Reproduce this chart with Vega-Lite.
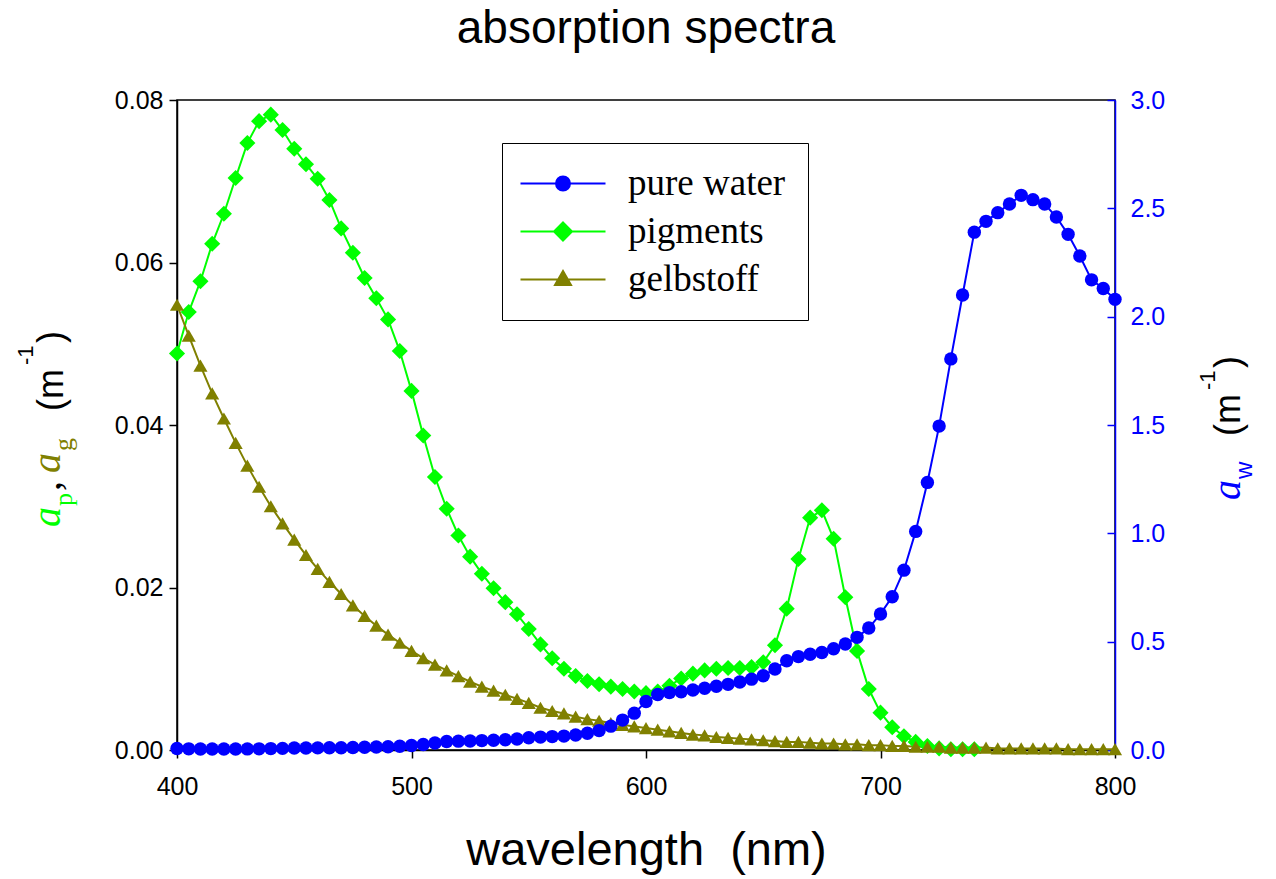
{
  "$schema": "https://vega.github.io/schema/vega-lite/v6.json",
  "width": 938,
  "height": 650,
  "autosize": {"type": "none"},
  "padding": {"left": 177, "top": 100, "right": 161, "bottom": 129},
  "background": "white",
  "title": {
    "text": "absorption spectra",
    "font": "Liberation Sans",
    "fontSize": 46,
    "fontWeight": "normal",
    "color": "black",
    "anchor": "middle",
    "offset": 35
  },
  "config": {
    "view": {"stroke": "black", "strokeWidth": 1.5},
    "axis": {
      "labelFont": "Liberation Sans",
      "labelFontSize": 25,
      "labelColor": "black",
      "labelFlush": false,
      "labelOverlap": false,
      "tickColor": "black",
      "domainColor": "black",
      "domainWidth": 1.5,
      "tickWidth": 1.5,
      "grid": false,
      "titleFont": "Liberation Sans",
      "titleFontWeight": "normal",
      "titleColor": "black"
    }
  },
  "datasets": {
    "spectra": [
      {"nm": 400, "series": "pure water", "a": 0.0066},
      {"nm": 405, "series": "pure water", "a": 0.0053},
      {"nm": 410, "series": "pure water", "a": 0.0047},
      {"nm": 415, "series": "pure water", "a": 0.0044},
      {"nm": 420, "series": "pure water", "a": 0.0045},
      {"nm": 425, "series": "pure water", "a": 0.0048},
      {"nm": 430, "series": "pure water", "a": 0.0050},
      {"nm": 435, "series": "pure water", "a": 0.0053},
      {"nm": 440, "series": "pure water", "a": 0.0064},
      {"nm": 445, "series": "pure water", "a": 0.0075},
      {"nm": 450, "series": "pure water", "a": 0.0092},
      {"nm": 455, "series": "pure water", "a": 0.0096},
      {"nm": 460, "series": "pure water", "a": 0.0098},
      {"nm": 465, "series": "pure water", "a": 0.0101},
      {"nm": 470, "series": "pure water", "a": 0.0106},
      {"nm": 475, "series": "pure water", "a": 0.0114},
      {"nm": 480, "series": "pure water", "a": 0.0127},
      {"nm": 485, "series": "pure water", "a": 0.0136},
      {"nm": 490, "series": "pure water", "a": 0.0150},
      {"nm": 495, "series": "pure water", "a": 0.0173},
      {"nm": 500, "series": "pure water", "a": 0.0204},
      {"nm": 505, "series": "pure water", "a": 0.0256},
      {"nm": 510, "series": "pure water", "a": 0.0325},
      {"nm": 515, "series": "pure water", "a": 0.0396},
      {"nm": 520, "series": "pure water", "a": 0.0409},
      {"nm": 525, "series": "pure water", "a": 0.0417},
      {"nm": 530, "series": "pure water", "a": 0.0434},
      {"nm": 535, "series": "pure water", "a": 0.0452},
      {"nm": 540, "series": "pure water", "a": 0.0474},
      {"nm": 545, "series": "pure water", "a": 0.0511},
      {"nm": 550, "series": "pure water", "a": 0.0565},
      {"nm": 555, "series": "pure water", "a": 0.0596},
      {"nm": 560, "series": "pure water", "a": 0.0619},
      {"nm": 565, "series": "pure water", "a": 0.0642},
      {"nm": 570, "series": "pure water", "a": 0.0695},
      {"nm": 575, "series": "pure water", "a": 0.0772},
      {"nm": 580, "series": "pure water", "a": 0.0896},
      {"nm": 585, "series": "pure water", "a": 0.110},
      {"nm": 590, "series": "pure water", "a": 0.138},
      {"nm": 595, "series": "pure water", "a": 0.170},
      {"nm": 600, "series": "pure water", "a": 0.224},
      {"nm": 605, "series": "pure water", "a": 0.256},
      {"nm": 610, "series": "pure water", "a": 0.265},
      {"nm": 615, "series": "pure water", "a": 0.269},
      {"nm": 620, "series": "pure water", "a": 0.277},
      {"nm": 625, "series": "pure water", "a": 0.285},
      {"nm": 630, "series": "pure water", "a": 0.294},
      {"nm": 635, "series": "pure water", "a": 0.303},
      {"nm": 640, "series": "pure water", "a": 0.314},
      {"nm": 645, "series": "pure water", "a": 0.327},
      {"nm": 650, "series": "pure water", "a": 0.343},
      {"nm": 655, "series": "pure water", "a": 0.374},
      {"nm": 660, "series": "pure water", "a": 0.412},
      {"nm": 665, "series": "pure water", "a": 0.431},
      {"nm": 670, "series": "pure water", "a": 0.442},
      {"nm": 675, "series": "pure water", "a": 0.450},
      {"nm": 680, "series": "pure water", "a": 0.467},
      {"nm": 685, "series": "pure water", "a": 0.489},
      {"nm": 690, "series": "pure water", "a": 0.520},
      {"nm": 695, "series": "pure water", "a": 0.563},
      {"nm": 700, "series": "pure water", "a": 0.628},
      {"nm": 705, "series": "pure water", "a": 0.707},
      {"nm": 710, "series": "pure water", "a": 0.830},
      {"nm": 715, "series": "pure water", "a": 1.009},
      {"nm": 720, "series": "pure water", "a": 1.235},
      {"nm": 725, "series": "pure water", "a": 1.495},
      {"nm": 730, "series": "pure water", "a": 1.805},
      {"nm": 735, "series": "pure water", "a": 2.10},
      {"nm": 740, "series": "pure water", "a": 2.39},
      {"nm": 745, "series": "pure water", "a": 2.44},
      {"nm": 750, "series": "pure water", "a": 2.48},
      {"nm": 755, "series": "pure water", "a": 2.52},
      {"nm": 760, "series": "pure water", "a": 2.56},
      {"nm": 765, "series": "pure water", "a": 2.54},
      {"nm": 770, "series": "pure water", "a": 2.52},
      {"nm": 775, "series": "pure water", "a": 2.46},
      {"nm": 780, "series": "pure water", "a": 2.38},
      {"nm": 785, "series": "pure water", "a": 2.28},
      {"nm": 790, "series": "pure water", "a": 2.17},
      {"nm": 795, "series": "pure water", "a": 2.13},
      {"nm": 800, "series": "pure water", "a": 2.08},

      {"nm": 400, "series": "pigments", "a": 0.0488},
      {"nm": 405, "series": "pigments", "a": 0.0539},
      {"nm": 410, "series": "pigments", "a": 0.0577},
      {"nm": 415, "series": "pigments", "a": 0.0623},
      {"nm": 420, "series": "pigments", "a": 0.0660},
      {"nm": 425, "series": "pigments", "a": 0.0704},
      {"nm": 430, "series": "pigments", "a": 0.0747},
      {"nm": 435, "series": "pigments", "a": 0.0774},
      {"nm": 440, "series": "pigments", "a": 0.0782},
      {"nm": 445, "series": "pigments", "a": 0.0763},
      {"nm": 450, "series": "pigments", "a": 0.0740},
      {"nm": 455, "series": "pigments", "a": 0.0721},
      {"nm": 460, "series": "pigments", "a": 0.0703},
      {"nm": 465, "series": "pigments", "a": 0.0677},
      {"nm": 470, "series": "pigments", "a": 0.0642},
      {"nm": 475, "series": "pigments", "a": 0.0612},
      {"nm": 480, "series": "pigments", "a": 0.0581},
      {"nm": 485, "series": "pigments", "a": 0.0556},
      {"nm": 490, "series": "pigments", "a": 0.0530},
      {"nm": 495, "series": "pigments", "a": 0.0491},
      {"nm": 500, "series": "pigments", "a": 0.0442},
      {"nm": 505, "series": "pigments", "a": 0.0387},
      {"nm": 510, "series": "pigments", "a": 0.0336},
      {"nm": 515, "series": "pigments", "a": 0.0297},
      {"nm": 520, "series": "pigments", "a": 0.0264},
      {"nm": 525, "series": "pigments", "a": 0.0238},
      {"nm": 530, "series": "pigments", "a": 0.0217},
      {"nm": 535, "series": "pigments", "a": 0.0199},
      {"nm": 540, "series": "pigments", "a": 0.0182},
      {"nm": 545, "series": "pigments", "a": 0.0167},
      {"nm": 550, "series": "pigments", "a": 0.0149},
      {"nm": 555, "series": "pigments", "a": 0.0130},
      {"nm": 560, "series": "pigments", "a": 0.0113},
      {"nm": 565, "series": "pigments", "a": 0.0100},
      {"nm": 570, "series": "pigments", "a": 0.0091},
      {"nm": 575, "series": "pigments", "a": 0.0085},
      {"nm": 580, "series": "pigments", "a": 0.0081},
      {"nm": 585, "series": "pigments", "a": 0.0078},
      {"nm": 590, "series": "pigments", "a": 0.0075},
      {"nm": 595, "series": "pigments", "a": 0.0072},
      {"nm": 600, "series": "pigments", "a": 0.0070},
      {"nm": 605, "series": "pigments", "a": 0.0072},
      {"nm": 610, "series": "pigments", "a": 0.0079},
      {"nm": 615, "series": "pigments", "a": 0.0088},
      {"nm": 620, "series": "pigments", "a": 0.0094},
      {"nm": 625, "series": "pigments", "a": 0.0098},
      {"nm": 630, "series": "pigments", "a": 0.0100},
      {"nm": 635, "series": "pigments", "a": 0.0101},
      {"nm": 640, "series": "pigments", "a": 0.0101},
      {"nm": 645, "series": "pigments", "a": 0.0102},
      {"nm": 650, "series": "pigments", "a": 0.0108},
      {"nm": 655, "series": "pigments", "a": 0.0129},
      {"nm": 660, "series": "pigments", "a": 0.0174},
      {"nm": 665, "series": "pigments", "a": 0.0235},
      {"nm": 670, "series": "pigments", "a": 0.0286},
      {"nm": 675, "series": "pigments", "a": 0.0295},
      {"nm": 680, "series": "pigments", "a": 0.0260},
      {"nm": 685, "series": "pigments", "a": 0.0188},
      {"nm": 690, "series": "pigments", "a": 0.0122},
      {"nm": 695, "series": "pigments", "a": 0.0075},
      {"nm": 700, "series": "pigments", "a": 0.0046},
      {"nm": 705, "series": "pigments", "a": 0.0028},
      {"nm": 710, "series": "pigments", "a": 0.0017},
      {"nm": 715, "series": "pigments", "a": 0.0010},
      {"nm": 720, "series": "pigments", "a": 0.0005},
      {"nm": 725, "series": "pigments", "a": 0.0002},
      {"nm": 730, "series": "pigments", "a": 0.0001},
      {"nm": 735, "series": "pigments", "a": 0.0001},
      {"nm": 740, "series": "pigments", "a": 0.0001},

      {"nm": 400, "series": "gelbstoff", "a": 0.0548},
      {"nm": 405, "series": "gelbstoff", "a": 0.0510},
      {"nm": 410, "series": "gelbstoff", "a": 0.0473},
      {"nm": 415, "series": "gelbstoff", "a": 0.0439},
      {"nm": 420, "series": "gelbstoff", "a": 0.0408},
      {"nm": 425, "series": "gelbstoff", "a": 0.0378},
      {"nm": 430, "series": "gelbstoff", "a": 0.0350},
      {"nm": 435, "series": "gelbstoff", "a": 0.0324},
      {"nm": 440, "series": "gelbstoff", "a": 0.0300},
      {"nm": 445, "series": "gelbstoff", "a": 0.0279},
      {"nm": 450, "series": "gelbstoff", "a": 0.0259},
      {"nm": 455, "series": "gelbstoff", "a": 0.0240},
      {"nm": 460, "series": "gelbstoff", "a": 0.0223},
      {"nm": 465, "series": "gelbstoff", "a": 0.0207},
      {"nm": 470, "series": "gelbstoff", "a": 0.0192},
      {"nm": 475, "series": "gelbstoff", "a": 0.0178},
      {"nm": 480, "series": "gelbstoff", "a": 0.0165},
      {"nm": 485, "series": "gelbstoff", "a": 0.0153},
      {"nm": 490, "series": "gelbstoff", "a": 0.0142},
      {"nm": 495, "series": "gelbstoff", "a": 0.0132},
      {"nm": 500, "series": "gelbstoff", "a": 0.0122},
      {"nm": 505, "series": "gelbstoff", "a": 0.0113},
      {"nm": 510, "series": "gelbstoff", "a": 0.0105},
      {"nm": 515, "series": "gelbstoff", "a": 0.0098},
      {"nm": 520, "series": "gelbstoff", "a": 0.0091},
      {"nm": 525, "series": "gelbstoff", "a": 0.0084},
      {"nm": 530, "series": "gelbstoff", "a": 0.0078},
      {"nm": 535, "series": "gelbstoff", "a": 0.0073},
      {"nm": 540, "series": "gelbstoff", "a": 0.0068},
      {"nm": 545, "series": "gelbstoff", "a": 0.0063},
      {"nm": 550, "series": "gelbstoff", "a": 0.0058},
      {"nm": 555, "series": "gelbstoff", "a": 0.0052},
      {"nm": 560, "series": "gelbstoff", "a": 0.0048},
      {"nm": 565, "series": "gelbstoff", "a": 0.0045},
      {"nm": 570, "series": "gelbstoff", "a": 0.0041},
      {"nm": 575, "series": "gelbstoff", "a": 0.0038},
      {"nm": 580, "series": "gelbstoff", "a": 0.0036},
      {"nm": 585, "series": "gelbstoff", "a": 0.0033},
      {"nm": 590, "series": "gelbstoff", "a": 0.0031},
      {"nm": 595, "series": "gelbstoff", "a": 0.0029},
      {"nm": 600, "series": "gelbstoff", "a": 0.0027},
      {"nm": 605, "series": "gelbstoff", "a": 0.0025},
      {"nm": 610, "series": "gelbstoff", "a": 0.0023},
      {"nm": 615, "series": "gelbstoff", "a": 0.0021},
      {"nm": 620, "series": "gelbstoff", "a": 0.0019},
      {"nm": 625, "series": "gelbstoff", "a": 0.0018},
      {"nm": 630, "series": "gelbstoff", "a": 0.0016},
      {"nm": 635, "series": "gelbstoff", "a": 0.0015},
      {"nm": 640, "series": "gelbstoff", "a": 0.0014},
      {"nm": 645, "series": "gelbstoff", "a": 0.0013},
      {"nm": 650, "series": "gelbstoff", "a": 0.0012},
      {"nm": 655, "series": "gelbstoff", "a": 0.0011},
      {"nm": 660, "series": "gelbstoff", "a": 0.0010},
      {"nm": 665, "series": "gelbstoff", "a": 0.0010},
      {"nm": 670, "series": "gelbstoff", "a": 0.0009},
      {"nm": 675, "series": "gelbstoff", "a": 0.0008},
      {"nm": 680, "series": "gelbstoff", "a": 0.0008},
      {"nm": 685, "series": "gelbstoff", "a": 0.0007},
      {"nm": 690, "series": "gelbstoff", "a": 0.0007},
      {"nm": 695, "series": "gelbstoff", "a": 0.0006},
      {"nm": 700, "series": "gelbstoff", "a": 0.0006},
      {"nm": 705, "series": "gelbstoff", "a": 0.0005},
      {"nm": 710, "series": "gelbstoff", "a": 0.0005},
      {"nm": 715, "series": "gelbstoff", "a": 0.0004},
      {"nm": 720, "series": "gelbstoff", "a": 0.0004},
      {"nm": 725, "series": "gelbstoff", "a": 0.0004},
      {"nm": 730, "series": "gelbstoff", "a": 0.0003},
      {"nm": 735, "series": "gelbstoff", "a": 0.0003},
      {"nm": 740, "series": "gelbstoff", "a": 0.0003},
      {"nm": 745, "series": "gelbstoff", "a": 0.0003},
      {"nm": 750, "series": "gelbstoff", "a": 0.0002},
      {"nm": 755, "series": "gelbstoff", "a": 0.0002},
      {"nm": 760, "series": "gelbstoff", "a": 0.0002},
      {"nm": 765, "series": "gelbstoff", "a": 0.0002},
      {"nm": 770, "series": "gelbstoff", "a": 0.0002},
      {"nm": 775, "series": "gelbstoff", "a": 0.0002},
      {"nm": 780, "series": "gelbstoff", "a": 0.0001},
      {"nm": 785, "series": "gelbstoff", "a": 0.0001},
      {"nm": 790, "series": "gelbstoff", "a": 0.0001},
      {"nm": 795, "series": "gelbstoff", "a": 0.0001},
      {"nm": 800, "series": "gelbstoff", "a": 0.0001}
    ]
  },
  "data": {"name": "spectra"},
  "resolve": {"scale": {"y": "independent"}},
  "layer": [
    {
      "layer": [
        {
          "transform": [{"filter": "datum.series !== 'pure water'"}],
          "mark": {"type": "line", "strokeWidth": 2},
          "encoding": {
            "x": {
              "field": "nm",
              "type": "quantitative",
              "scale": {"domain": [400, 800], "nice": false, "zero": false},
              "axis": {
                "values": [400, 500, 600, 700, 800],
                "format": "d",
                "tickSize": 8,
                "labelPadding": 16,
                "title": "wavelength\u00a0 (nm)",
                "titleFontSize": 47,
                "titlePadding": 28
              }
            },
            "y": {
              "field": "a",
              "type": "quantitative",
              "scale": {"domain": [0, 0.08], "nice": false},
              "axis": {
                "orient": "left",
                "values": [0, 0.02, 0.04, 0.06, 0.08],
                "format": ".2f",
                "tickSize": 8,
                "labelPadding": 6,
                "title": null
              }
            },
            "color": {
              "field": "series",
              "type": "nominal",
              "scale": {
                "domain": ["pure water", "pigments", "gelbstoff"],
                "range": ["#0000ff", "#00ff00", "#808000"]
              },
              "legend": {
                "orient": "none",
                "legendX": 325,
                "legendY": 43,
                "title": null,
                "direction": "vertical",
                "strokeColor": "black",
                "fillColor": "white",
                "padding": 22,
                "labelFont": "Liberation Serif",
                "labelFontSize": 37,
                "labelColor": "black",
                "labelOffset": 67,
                "labelLimit": 400,
                "symbolSize": 400,
                "symbolStrokeWidth": 2,
                "rowPadding": 10,
                "encode": {
                  "symbols": {
                    "update": {
                      "shape": {"signal": "datum.value === 'pure water' ? 'M-2.2,0H6.3M2.75,0A0.7,0.7,0,1,1,1.35,0A0.7,0.7,0,1,1,2.75,0Z' : datum.value === 'pigments' ? 'M-2.2,0H6.3M2.05,-0.9L2.95,0L2.05,0.9L1.15,0Z' : 'M-2.2,0H6.3M2.05,-0.85L2.85,0.55L1.25,0.55Z'"},
                      "fill": {"signal": "scale('color', datum.value)"},
                      "stroke": {"signal": "scale('color', datum.value)"},
                      "strokeWidth": {"value": 2},
                      "opacity": {"value": 1},
                      "fillOpacity": {"value": 1}
                    }
                  }
                }
              }
            }
          }
        },
        {
          "transform": [{"filter": "datum.series === 'pigments'"}],
          "mark": {"type": "point", "shape": "diamond", "filled": true, "opacity": 1, "size": 260},
          "encoding": {
            "x": {"field": "nm", "type": "quantitative"},
            "y": {"field": "a", "type": "quantitative"},
            "color": {"field": "series", "type": "nominal"}
          }
        },
        {
          "transform": [{"filter": "datum.series === 'gelbstoff'"}],
          "mark": {"type": "point", "shape": "triangle-up", "filled": true, "opacity": 1, "size": 200},
          "encoding": {
            "x": {"field": "nm", "type": "quantitative"},
            "y": {"field": "a", "type": "quantitative"},
            "color": {"field": "series", "type": "nominal"}
          }
        },
        {
          "data": {"values": [{}]},
          "mark": {"type": "text", "text": "a", "angle": 270, "align": "left", "baseline": "alphabetic", "font": "Liberation Serif", "fontStyle": "italic", "fontSize": 40, "fill": "#00ff00", "dx": -102, "dy": -117},
          "encoding": {"x": {"datum": 400, "type": "quantitative"}, "y": {"datum": 0.04, "type": "quantitative"}}
        },
        {
          "data": {"values": [{}]},
          "mark": {"type": "text", "text": "p", "angle": 270, "align": "left", "baseline": "alphabetic", "font": "Liberation Serif", "fontSize": 26, "fill": "#00ff00", "dx": -81, "dy": -105},
          "encoding": {"x": {"datum": 400, "type": "quantitative"}, "y": {"datum": 0.04, "type": "quantitative"}}
        },
        {
          "data": {"values": [{}]},
          "mark": {"type": "text", "text": ",", "angle": 270, "align": "left", "baseline": "alphabetic", "font": "Liberation Serif", "fontSize": 40, "fill": "black", "dx": -66, "dy": -117},
          "encoding": {"x": {"datum": 400, "type": "quantitative"}, "y": {"datum": 0.04, "type": "quantitative"}}
        },
        {
          "data": {"values": [{}]},
          "mark": {"type": "text", "text": "a", "angle": 270, "align": "left", "baseline": "alphabetic", "font": "Liberation Serif", "fontStyle": "italic", "fontSize": 40, "fill": "#808000", "dx": -48, "dy": -117},
          "encoding": {"x": {"datum": 400, "type": "quantitative"}, "y": {"datum": 0.04, "type": "quantitative"}}
        },
        {
          "data": {"values": [{}]},
          "mark": {"type": "text", "text": "g", "angle": 270, "align": "left", "baseline": "alphabetic", "font": "Liberation Serif", "fontSize": 26, "fill": "#808000", "dx": -26, "dy": -105},
          "encoding": {"x": {"datum": 400, "type": "quantitative"}, "y": {"datum": 0.04, "type": "quantitative"}}
        },
        {
          "data": {"values": [{}]},
          "mark": {"type": "text", "text": "(m", "angle": 270, "align": "left", "baseline": "alphabetic", "font": "Liberation Sans", "fontSize": 36, "fill": "black", "dx": 14, "dy": -114},
          "encoding": {"x": {"datum": 400, "type": "quantitative"}, "y": {"datum": 0.04, "type": "quantitative"}}
        },
        {
          "data": {"values": [{}]},
          "mark": {"type": "text", "text": "-1", "angle": 270, "align": "left", "baseline": "alphabetic", "font": "Liberation Sans", "fontSize": 22, "fill": "black", "dx": 60, "dy": -144},
          "encoding": {"x": {"datum": 400, "type": "quantitative"}, "y": {"datum": 0.04, "type": "quantitative"}}
        },
        {
          "data": {"values": [{}]},
          "mark": {"type": "text", "text": ")", "angle": 270, "align": "left", "baseline": "alphabetic", "font": "Liberation Sans", "fontSize": 36, "fill": "black", "dx": 82, "dy": -114},
          "encoding": {"x": {"datum": 400, "type": "quantitative"}, "y": {"datum": 0.04, "type": "quantitative"}}
        }
      ]
    },
    {
      "layer": [
        {
          "transform": [{"filter": "datum.series === 'pure water'"}],
          "mark": {"type": "line", "strokeWidth": 2},
          "encoding": {
            "x": {"field": "nm", "type": "quantitative"},
            "y": {
              "field": "a",
              "type": "quantitative",
              "scale": {"domain": [0, 3], "nice": false},
              "axis": {
                "orient": "right",
                "values": [0, 0.5, 1, 1.5, 2, 2.5, 3],
                "format": ".1f",
                "tickSize": -8,
                "labelPadding": 23,
                "labelColor": "#0000ff",
                "tickColor": "#0000ff",
                "domainColor": "#0000ff",
                "title": null
              }
            },
            "color": {"field": "series", "type": "nominal"}
          }
        },
        {
          "transform": [{"filter": "datum.series === 'pure water'"}],
          "mark": {"type": "point", "shape": "circle", "filled": true, "opacity": 1, "size": 180},
          "encoding": {
            "x": {"field": "nm", "type": "quantitative"},
            "y": {"field": "a", "type": "quantitative"},
            "color": {"field": "series", "type": "nominal"}
          }
        },
        {
          "data": {"values": [{}]},
          "mark": {"type": "text", "text": "a", "angle": 270, "align": "left", "baseline": "alphabetic", "font": "Liberation Serif", "fontStyle": "italic", "fontSize": 40, "fill": "#0000ff", "dx": -75, "dy": 125},
          "encoding": {"x": {"datum": 800, "type": "quantitative"}, "y": {"datum": 1.5, "type": "quantitative"}}
        },
        {
          "data": {"values": [{}]},
          "mark": {"type": "text", "text": "w", "angle": 270, "align": "left", "baseline": "alphabetic", "font": "Liberation Sans", "fontSize": 24, "fill": "#0000ff", "dx": -54, "dy": 137},
          "encoding": {"x": {"datum": 800, "type": "quantitative"}, "y": {"datum": 1.5, "type": "quantitative"}}
        },
        {
          "data": {"values": [{}]},
          "mark": {"type": "text", "text": "(m", "angle": 270, "align": "left", "baseline": "alphabetic", "font": "Liberation Sans", "fontSize": 36, "fill": "black", "dx": -11, "dy": 125},
          "encoding": {"x": {"datum": 800, "type": "quantitative"}, "y": {"datum": 1.5, "type": "quantitative"}}
        },
        {
          "data": {"values": [{}]},
          "mark": {"type": "text", "text": "-1", "angle": 270, "align": "left", "baseline": "alphabetic", "font": "Liberation Sans", "fontSize": 22, "fill": "black", "dx": 35, "dy": 100},
          "encoding": {"x": {"datum": 800, "type": "quantitative"}, "y": {"datum": 1.5, "type": "quantitative"}}
        },
        {
          "data": {"values": [{}]},
          "mark": {"type": "text", "text": ")", "angle": 270, "align": "left", "baseline": "alphabetic", "font": "Liberation Sans", "fontSize": 36, "fill": "black", "dx": 57, "dy": 125},
          "encoding": {"x": {"datum": 800, "type": "quantitative"}, "y": {"datum": 1.5, "type": "quantitative"}}
        }
      ]
    }
  ]
}
